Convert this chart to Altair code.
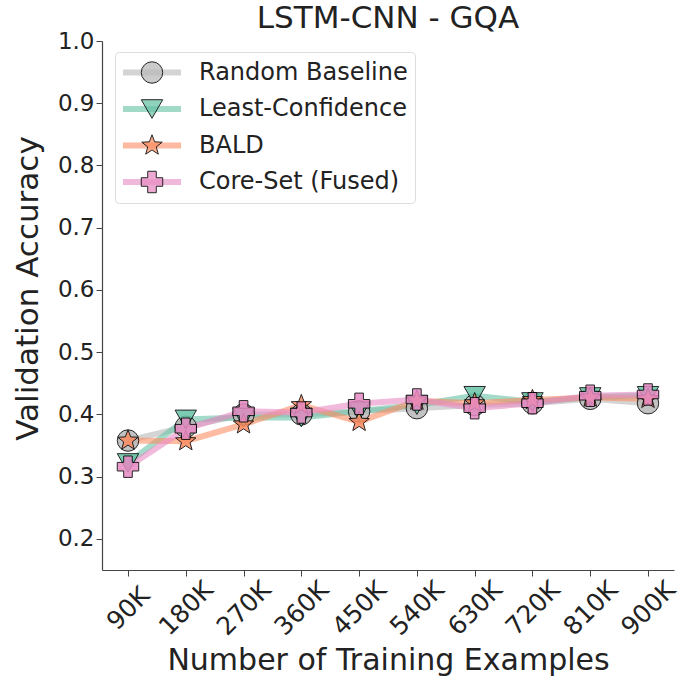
import math
import altair as alt
import pandas as pd

examples = [90, 180, 270, 360, 450, 540, 630, 720, 810, 900]
tick_labels = ["90K", "180K", "270K", "360K", "450K", "540K", "630K", "720K", "810K", "900K"]
methods = ["Random Baseline", "Least-Confidence", "BALD", "Core-Set (Fused)"]
random_baseline = [0.358, 0.380, 0.400, 0.400, 0.405, 0.410, 0.415, 0.418, 0.425, 0.418]
least_confidence = [0.322, 0.392, 0.395, 0.395, 0.405, 0.415, 0.430, 0.420, 0.428, 0.430]
bald = [0.358, 0.357, 0.384, 0.415, 0.388, 0.422, 0.418, 0.423, 0.427, 0.425]
core_set = [0.316, 0.377, 0.405, 0.403, 0.417, 0.424, 0.410, 0.418, 0.430, 0.432]

colors = ["#b8b8b8", "#66c2a5", "#fc8d62", "#e78ac3"]

# five-point star as a unit SVG path
pts = []
for k in range(10):
    r = 1.0 if k % 2 == 0 else 0.42
    a = math.radians(-90 + 36 * k)
    pts.append(f"{r * math.cos(a):.3f},{r * math.sin(a):.3f}")
star = "M" + " L".join(pts) + " Z"
shapes = ["circle", "triangle-down", star, "cross"]

# marker legend uses a distinct domain (trailing space) so it is not merged with the line legend
methods_m = [m + " " for m in methods]

series = [random_baseline, least_confidence, bald, core_set]
rows = []
for m, mm, vals in zip(methods, methods_m, series):
    for x, v in zip(examples, vals):
        rows.append({"x": x, "acc": v, "method": m, "method2": mm})
df = pd.DataFrame(rows)

FONT = "DejaVu Sans"
label_js = "{" + ",".join(f"'{x}':'{l}'" for x, l in zip(examples, tick_labels)) + "}[datum.value]"

xenc = alt.X("x:Q", scale=alt.Scale(domain=[49.5, 940.5], nice=False, zero=False),
             axis=alt.Axis(values=examples, labelExpr=label_js, labelAngle=315,
                           labelAlign="center", labelBaseline="middle", labelPadding=32,
                           labelOverlap=False, labelFontSize=25,
                           title="Number of Training Examples", titleFontSize=30,
                           titlePadding=6, titleFontWeight="normal"))
yenc = alt.Y("acc:Q", scale=alt.Scale(domain=[0.15, 1.0], nice=False, zero=False),
             axis=alt.Axis(values=[0.2, 0.3, 0.4, 0.5, 0.6, 0.7, 0.8, 0.9, 1.0], format=".1f",
                           title="Validation Accuracy", titleFontSize=31, titlePadding=13,
                           titleY=247, titleFontWeight="normal"))

leg_common = dict(orient="none", legendX=13, legendY=11, title=None, labelFontSize=24,
                  labelFont=FONT, labelColor="#222", padding=7, labelLimit=400,
                  clipHeight=27, rowPadding=9.5)

lines = alt.Chart(df).mark_line(strokeWidth=6, opacity=0.6).encode(
    x=xenc, y=yenc,
    color=alt.Color("method:N", sort=methods,
                    scale=alt.Scale(domain=methods, range=colors),
                    legend=alt.Legend(symbolType="stroke", symbolStrokeWidth=6, symbolSize=3364,
                                      symbolOpacity=0.6, symbolOffset=-2, labelOffset=15,
                                      strokeColor="#dddddd", fillColor="white", cornerRadius=4,
                                      **leg_common)),
    detail="method:N",
)

points = alt.Chart(df).mark_point(filled=True, size=460, stroke="black", strokeWidth=1,
                                  opacity=0.85).encode(
    x=xenc, y=yenc,
    fill=alt.Fill("method2:N", sort=methods_m,
                  scale=alt.Scale(domain=methods_m, range=colors),
                  legend=alt.Legend(symbolSize=460, symbolStrokeColor="black",
                                    symbolStrokeWidth=1, symbolOpacity=0.85,
                                    labelExpr="''", symbolOffset=18, labelOffset=0,
                                    **leg_common)),
    shape=alt.Shape("method2:N", sort=methods_m, scale=alt.Scale(domain=methods_m, range=shapes)),
)

chart = alt.layer(lines, points).properties(
    width=572, height=529,
    title=alt.Title("LSTM-CNN - GQA", fontSize=31, font=FONT, fontWeight="normal",
                    color="#222", offset=-5),
    autosize=alt.AutoSizeParams(type="none"),
    padding={"left": 102, "top": 41, "right": 6, "bottom": 107},
).configure_view(stroke=None).configure_axis(
    labelFont=FONT, titleFont=FONT, labelFontSize=23, labelColor="#222", titleColor="#222",
    domainColor="#444", tickColor="#444", domainWidth=1.2, tickSize=6, grid=False,
)

chart.save("out.html", embed_options={"renderer": "svg", "actions": False})
